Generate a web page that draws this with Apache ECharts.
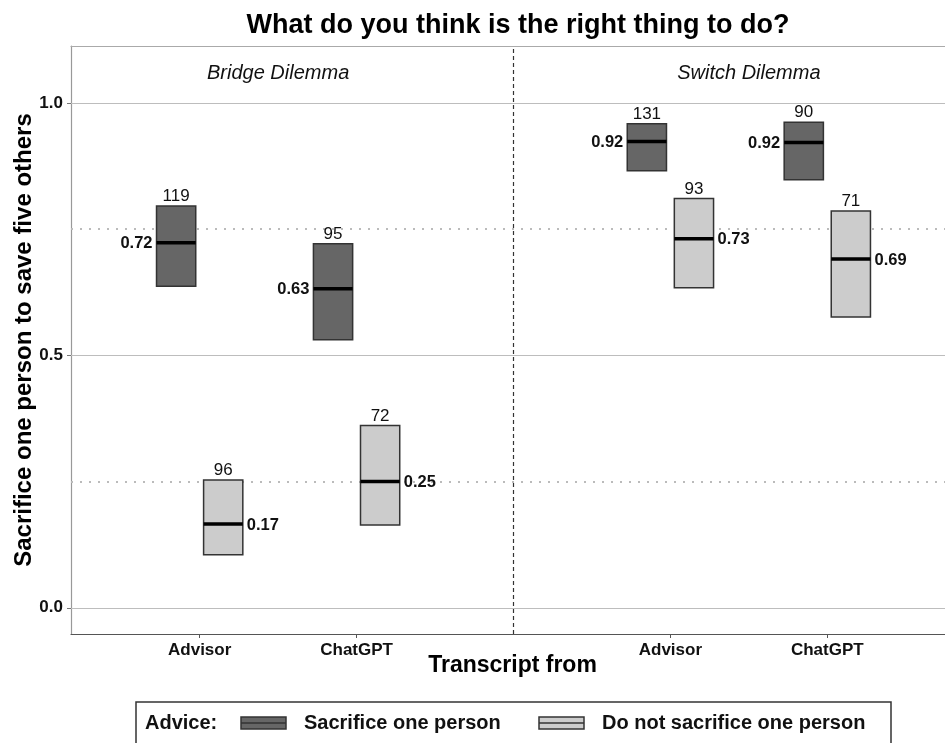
<!DOCTYPE html>
<html>
<head>
<meta charset="utf-8">
<script src="https://cdn.jsdelivr.net/npm/echarts@6.0.0/dist/echarts.min.js"></script>
<style>
html,body{margin:0;padding:0;background:#fff;}
#chart{width:945px;height:743px;}
</style>
</head>
<body>
<div id="chart"></div>
<script>
// ---- data ----
const facets = ['Bridge Dilemma', 'Switch Dilemma'];
const sources = ['Advisor', 'ChatGPT'];
const adviceLevels = ['Sacrifice one person', 'Do not sacrifice one person'];
// order: Bridge-Advisor, Bridge-ChatGPT, Switch-Advisor, Switch-ChatGPT
const sacrificeMean  = [0.723, 0.632, 0.924, 0.922];
const sacrificeLower = [0.637, 0.531, 0.866, 0.848];
const sacrificeUpper = [0.796, 0.721, 0.959, 0.962];
const sacrificeN     = [119, 95, 131, 90];
const notSacMean  = [0.166, 0.250, 0.731, 0.691];
const notSacLower = [0.105, 0.164, 0.634, 0.576];
const notSacUpper = [0.253, 0.361, 0.811, 0.786];
const notSacN     = [96, 72, 93, 71];
const yTicks = [0, 0.5, 1.0];
const yDotted = [0.25, 0.75];

// ---- layout helpers ----
const FONT = "'Liberation Sans', Arial, Helvetica, sans-serif";
const DODGE = 0.15, BOXW = 0.25;
function pos(i) { return Math.floor(i / 2) * 3 + (i % 2) + 1; }
const xTickPos = [], xTickName = {};
for (let f = 0; f < facets.length; f++) for (let s = 0; s < sources.length; s++) {
  const p = f * 3 + s + 1; xTickPos.push(p); xTickName[p] = sources[s];
}
const sepPos = 3;

const darkData = sacrificeMean.map((m, i) => [pos(i) - DODGE, sacrificeLower[i], m, sacrificeUpper[i], sacrificeN[i]]);
const lightData = notSacMean.map((m, i) => [pos(i) + DODGE, notSacLower[i], m, notSacUpper[i], notSacN[i]]);
const facetData = facets.map((f, i) => [i * 3 + 1.5, 1.059, f]);

function makeRender(fill, side) {
  return function (params, api) {
    const x = api.value(0), lo = api.value(1), mid = api.value(2), hi = api.value(3), n = api.value(4);
    const a = api.coord([x - BOXW / 2, hi]);
    const b = api.coord([x + BOXW / 2, lo]);
    const m = api.coord([x, mid]);
    const label = (Math.round(mid * 100) / 100).toFixed(2);
    return {
      type: 'group',
      children: [
        { type: 'rect', shape: { x: a[0], y: a[1], width: b[0] - a[0], height: b[1] - a[1] },
          style: { fill: fill, stroke: '#333', lineWidth: 1.5 } },
        { type: 'line', shape: { x1: a[0], y1: m[1], x2: b[0], y2: m[1] },
          style: { stroke: '#000', lineWidth: 3.5 } },
        { type: 'text', x: (a[0] + b[0]) / 2, y: a[1] - 1,
          style: { text: String(n), font: '17px ' + FONT, fill: '#111', align: 'center', verticalAlign: 'bottom' } },
        { type: 'text', x: side < 0 ? a[0] - 4 : b[0] + 4, y: m[1] + 1,
          style: { text: label, font: 'bold 16.5px ' + FONT, fill: '#111', align: side < 0 ? 'right' : 'left', verticalAlign: 'middle' } }
      ]
    };
  };
}

const chart = echarts.init(document.getElementById('chart'));
const legendY = 723;
chart.setOption({
  animation: false,
  backgroundColor: '#fff',
  title: {
    text: 'What do you think is the right thing to do?',
    left: 513, top: 7, textAlign: 'center',
    textStyle: { fontFamily: FONT, fontWeight: 'bold', fontSize: 27, color: '#000' }
  },
  grid: { left: 71, right: 0, top: 46, bottom: 109, outerBoundsMode: 'none', containLabel: false },
  xAxis: [{
    type: 'value', min: 0.18, max: 5.75,
    name: 'Transcript from', nameLocation: 'middle', nameGap: 20, nameMoveOverlap: false,
    nameTextStyle: { fontFamily: FONT, fontWeight: 'bold', fontSize: 23, color: '#000', padding: [0, 0, 0, 9] },
    axisLine: { show: true, onZero: false, lineStyle: { color: '#555', width: 1.2 } },
    axisTick: { show: true, customValues: xTickPos, length: 4, lineStyle: { color: '#555' } },
    axisLabel: { customValues: xTickPos, formatter: v => xTickName[v] || '', margin: 8,
      fontFamily: FONT, fontWeight: 'bold', fontSize: 17, color: '#111' },
    splitLine: { show: false }
  }, {
    type: 'value', position: 'top', min: 0.18, max: 5.75,
    axisLine: { show: true, onZero: false, lineStyle: { color: '#aaa', width: 1.2 } },
    axisTick: { show: false }, axisLabel: { show: false }, splitLine: { show: false }
  }],
  yAxis: {
    type: 'value', min: -0.052, max: 1.113,
    name: 'Sacrifice one person to save five others', nameLocation: 'middle', nameGap: 35, nameMoveOverlap: false,
    nameTextStyle: { fontFamily: FONT, fontWeight: 'bold', fontSize: 24, color: '#000' },
    axisLine: { show: true, onZero: false, lineStyle: { color: '#999', width: 1.2 } },
    axisTick: { show: true, customValues: yTicks, length: 4, lineStyle: { color: '#777' } },
    axisLabel: { customValues: yTicks, formatter: v => v.toFixed(1), margin: 8,
      fontFamily: FONT, fontWeight: 'bold', fontSize: 17, color: '#111' },
    splitLine: { show: false }
  },
  series: [
    {
      type: 'custom', name: 'grid', silent: true, data: [], renderItem: () => null,
      markLine: {
        silent: true, symbol: 'none', label: { show: false }, animation: false,
        data: yTicks.map(v => ({ yAxis: v, lineStyle: { color: '#bdbdbd', width: 1.2, type: 'solid' } }))
          .concat(yDotted.map(v => ({ yAxis: v, lineStyle: { color: '#bbb', width: 2, type: [2, 7] } })))
          .concat([{ xAxis: sepPos, lineStyle: { color: '#333', width: 1.2, type: [4, 3] } }])
      }
    },
    { type: 'custom', name: adviceLevels[0], data: darkData, renderItem: makeRender('#666666', -1), z: 5 },
    { type: 'custom', name: adviceLevels[1], data: lightData, renderItem: makeRender('#cccccc', 1), z: 5 },
    {
      type: 'custom', name: 'facets', data: facetData, silent: true,
      renderItem: function (params, api) {
        const p = api.coord([api.value(0), api.value(1)]);
        return { type: 'text', x: p[0], y: p[1],
          style: { text: facets[params.dataIndex], font: 'italic 20px ' + FONT, fill: '#111', align: 'center', verticalAlign: 'middle' } };
      }
    }
  ],
  graphic: [
    { type: 'rect', shape: { x: 136, y: 702, width: 755, height: 60 }, style: { fill: '#fff', stroke: '#333', lineWidth: 1.5 } },
    { type: 'text', x: 145, y: legendY, style: { text: 'Advice:', font: 'bold 20px ' + FONT, fill: '#111', verticalAlign: 'middle' } },
    { type: 'rect', shape: { x: 241, y: 717, width: 45, height: 12 }, style: { fill: '#666666', stroke: '#333', lineWidth: 1.5 } },
    { type: 'line', shape: { x1: 241, y1: 723, x2: 286, y2: 723 }, style: { stroke: '#333', lineWidth: 1.5 } },
    { type: 'text', x: 304, y: legendY, style: { text: adviceLevels[0], font: 'bold 20px ' + FONT, fill: '#111', verticalAlign: 'middle' } },
    { type: 'rect', shape: { x: 539, y: 717, width: 45, height: 12 }, style: { fill: '#cccccc', stroke: '#333', lineWidth: 1.5 } },
    { type: 'line', shape: { x1: 539, y1: 723, x2: 584, y2: 723 }, style: { stroke: '#333', lineWidth: 1.5 } },
    { type: 'text', x: 602, y: legendY, style: { text: adviceLevels[1], font: 'bold 20px ' + FONT, fill: '#111', verticalAlign: 'middle' } }
  ]
});
</script>
</body>
</html>
